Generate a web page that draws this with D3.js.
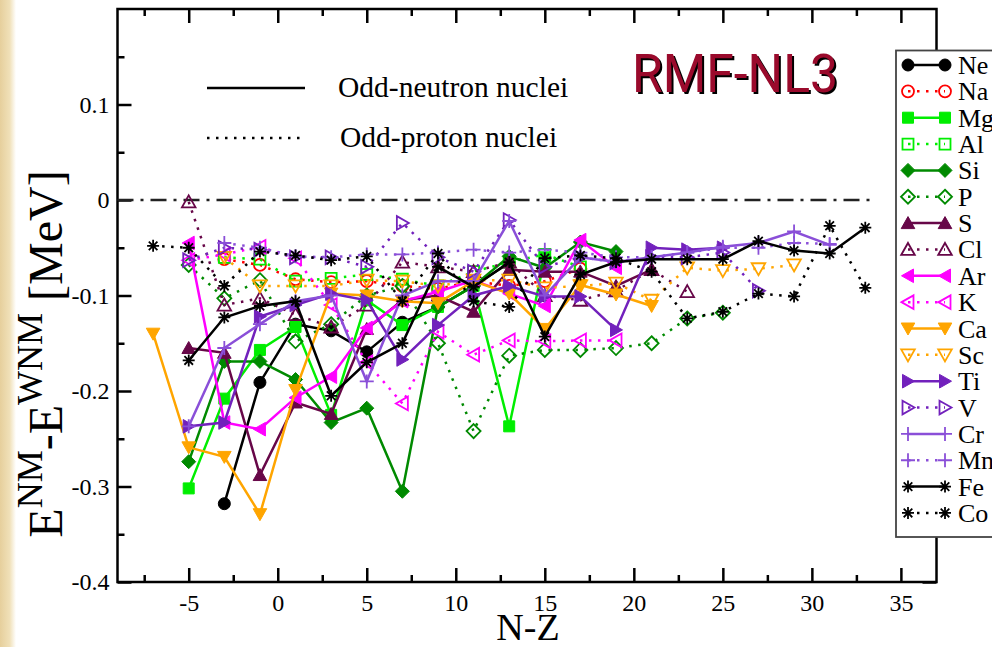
<!DOCTYPE html>
<html><head><meta charset="utf-8">
<script src="https://cdn.jsdelivr.net/npm/d3@7"></script>
<style>
html,body{margin:0;padding:0;background:#fff;}
svg{display:block;}
</style></head>
<body>
<svg id="chart" width="992" height="647"></svg>
<script>
// Isotope chains: E(NM) - E(WNM) in MeV, one value per odd N-Z, step 2
const elements = ["Ne","Na","Mg","Al","Si","P","S","Cl","Ar","K","Ca","Sc","Ti","V","Cr","Mn","Fe","Co"];
const firstNZ = [-3,-3,-5,-3,-5,-5,-5,-5,-5,-5,-7,-3,-5,-5,-5,-3,-5,-7];

const eNe = [-0.318,-0.191,-0.130,-0.137,-0.159,-0.128,-0.112,-0.090,-0.066];
const eNa = [-0.062,-0.068,-0.083,-0.086,-0.085,-0.090,-0.093,-0.085,-0.090,-0.085,-0.072];
const eMg = [-0.302,-0.208,-0.157,-0.133,-0.225,-0.105,-0.131,-0.112,-0.090,-0.237,-0.060];
const eAl = [-0.060,-0.062,-0.085,-0.082,-0.078,-0.083,-0.090,-0.075,-0.065,-0.057,-0.070];
const eSi = [-0.274,-0.169,-0.169,-0.188,-0.233,-0.218,-0.305,-0.112,-0.090,-0.059,-0.071,-0.044,-0.054];
const eP  = [-0.068,-0.103,-0.084,-0.148,-0.130,-0.100,-0.090,-0.150,-0.242,-0.163,-0.157,-0.157,-0.155,-0.150,-0.124,-0.118];
const eS  = [-0.155,-0.160,-0.288,-0.212,-0.224,-0.135,-0.105,-0.100,-0.117,-0.073,-0.075,-0.075,-0.090,-0.073];
const eCl = [-0.002,-0.110,-0.103,-0.120,-0.133,-0.110,-0.065,-0.070,-0.075,-0.065,-0.100,-0.105,-0.095,-0.073,-0.096];
const eAr = [-0.045,-0.233,-0.240,-0.207,-0.185,-0.134,-0.106,-0.096,-0.084,-0.098,-0.111,-0.042,-0.071];
const eK  = [-0.063,-0.057,-0.049,-0.061,-0.110,-0.170,-0.213,-0.138,-0.162,-0.147,-0.148,-0.147,-0.147];
const eCa = [-0.140,-0.259,-0.269,-0.329,-0.199,-0.098,-0.100,-0.106,-0.108,-0.085,-0.098,-0.135,-0.089,-0.099,-0.111];
const eSc = [-0.060,-0.090,-0.090,-0.090,-0.084,-0.085,-0.090,-0.084,-0.084,-0.092,-0.090,-0.087,-0.105,-0.071,-0.074,-0.072,-0.068];
const eTi = [-0.237,-0.233,-0.122,-0.110,-0.098,-0.105,-0.167,-0.131,-0.100,-0.090,-0.101,-0.101,-0.136,-0.050,-0.052,-0.050];
const eV  = [-0.063,-0.050,-0.052,-0.060,-0.060,-0.070,-0.024,-0.060,-0.075,-0.021,-0.070,-0.060,-0.065,-0.060,-0.060,-0.055,-0.095];
const eCr = [-0.237,-0.155,-0.130,-0.106,-0.100,-0.190,-0.100,-0.085,-0.085,-0.022,-0.100,-0.060,-0.065,-0.060,-0.055,-0.049,-0.045,-0.033,-0.047];
const eMn = [-0.045,-0.050,-0.059,-0.060,-0.057,-0.057,-0.055,-0.052,-0.055,-0.052,-0.055,-0.060,-0.060,-0.055,-0.050,-0.050,-0.045,-0.046];
const eFe = [-0.168,-0.123,-0.111,-0.106,-0.205,-0.170,-0.150,-0.070,-0.091,-0.065,-0.143,-0.078,-0.065,-0.062,-0.062,-0.062,-0.043,-0.053,-0.056,-0.029];
const eCo = [-0.048,-0.050,-0.090,-0.054,-0.058,-0.063,-0.059,-0.106,-0.056,-0.106,-0.112,-0.061,-0.058,-0.061,-0.075,-0.124,-0.117,-0.098,-0.101,-0.027,-0.092];

const energies = [eNe,eNa,eMg,eAl,eSi,eP,eS,eCl,eAr,eK,eCa,eSc,eTi,eV,eCr,eMn,eFe,eCo];

const xTicks = [-5,0,5,10,15,20,25,30,35];
const yTicks = [0.1,0,-0.1,-0.2,-0.3,-0.4];
const legendNotes = ["Odd-neutron nuclei","Odd-proton nuclei"];

// drawing styles per chain (colour, marker, filled/solid)
const styles = [
  {c:"#000000", m:"circle",  f:true},
  {c:"#ff0000", m:"circle",  f:false},
  {c:"#00ee00", m:"square",  f:true},
  {c:"#00ee00", m:"square",  f:false},
  {c:"#008a00", m:"diamond", f:true},
  {c:"#008a00", m:"diamond", f:false},
  {c:"#670748", m:"triUp",   f:true},
  {c:"#670748", m:"triUp",   f:false},
  {c:"#ff00ff", m:"triLeft", f:true},
  {c:"#ff00ff", m:"triLeft", f:false},
  {c:"#ffa500", m:"triDown", f:true},
  {c:"#ffa500", m:"triDown", f:false},
  {c:"#7221bc", m:"triRight",f:true},
  {c:"#7221bc", m:"triRight",f:false},
  {c:"#8a4fd8", m:"plus",    f:true},
  {c:"#8a4fd8", m:"plus",    f:false},
  {c:"#000000", m:"star",    f:true},
  {c:"#000000", m:"star",    f:false}
];

const W = 992, H = 647;
const P = {l:117.5, r:936.5, t:9, b:582};
const serif = "'Liberation Serif','Times New Roman',serif";

const svg = d3.select("#chart");

// parchment edge at the left border
const defs = svg.append("defs");
const g0 = defs.append("linearGradient").attr("id","edge").attr("x1","0").attr("x2","1");
g0.append("stop").attr("offset","0").attr("stop-color","#e6cf9c");
g0.append("stop").attr("offset","0.6").attr("stop-color","#f0e0b8");
g0.append("stop").attr("offset","1").attr("stop-color","#ffffff");
svg.append("rect").attr("x",0).attr("y",0).attr("width",16).attr("height",H).attr("fill","url(#edge)");

const x = d3.scaleLinear().domain([-9,37]).range([P.l,P.r]);
const y = d3.scaleLinear().domain([-0.4,0.2]).range([P.b,P.t]);

const majorLen = 14, minorLen = 7;
const xMinor = d3.range(-7.5,37,2.5).filter(v => !xTicks.includes(v));
const yMinor = d3.range(-0.35,0.2,0.1).map(v => +v.toFixed(2));

function styleAxis(g){
  g.select(".domain").remove();
  g.selectAll(".tick line").attr("stroke","#000").attr("stroke-width",2.5);
  g.selectAll(".tick text").attr("fill","#000")
    .style("font-family",serif).style("font-size","24px");
}

// bottom axis
svg.append("g").attr("transform",`translate(0,${P.b})`)
  .call(d3.axisBottom(x).tickValues(xTicks).tickSizeInner(-majorLen).tickSizeOuter(0).tickPadding(12).tickFormat(d => String(d)))
  .call(styleAxis);
svg.append("g").attr("transform",`translate(0,${P.b})`)
  .call(d3.axisBottom(x).tickValues(xMinor).tickSizeInner(-minorLen).tickSizeOuter(0).tickFormat(""))
  .call(styleAxis);
// top axis
svg.append("g").attr("transform",`translate(0,${P.t})`)
  .call(d3.axisTop(x).tickValues(xTicks).tickSizeInner(-majorLen).tickSizeOuter(0).tickFormat(""))
  .call(styleAxis);
svg.append("g").attr("transform",`translate(0,${P.t})`)
  .call(d3.axisTop(x).tickValues(xMinor).tickSizeInner(-minorLen).tickSizeOuter(0).tickFormat(""))
  .call(styleAxis);
// left axis
svg.append("g").attr("transform",`translate(${P.l},0)`)
  .call(d3.axisLeft(y).tickValues(yTicks).tickSizeInner(-majorLen).tickSizeOuter(0).tickPadding(8).tickFormat(d => String(d)))
  .call(styleAxis);
svg.append("g").attr("transform",`translate(${P.l},0)`)
  .call(d3.axisLeft(y).tickValues(yMinor).tickSizeInner(-minorLen).tickSizeOuter(0).tickFormat(""))
  .call(styleAxis);
// right axis
svg.append("g").attr("transform",`translate(${P.r},0)`)
  .call(d3.axisRight(y).tickValues(yTicks).tickSizeInner(-majorLen).tickSizeOuter(0).tickFormat(""))
  .call(styleAxis);

// frame
svg.append("rect").attr("x",P.l).attr("y",P.t).attr("width",P.r-P.l).attr("height",P.b-P.t)
  .attr("fill","none").attr("stroke","#000").attr("stroke-width",2.5);

// zero reference line
svg.append("line").attr("x1",x(-9)).attr("x2",x(33.3)).attr("y1",y(0)).attr("y2",y(0))
  .attr("stroke","#222").attr("stroke-width",2.5).attr("stroke-dasharray","16 7 3 7");

// marker shapes
function markerPath(m){
  switch(m){
    case "circle": return d3.symbol(d3.symbolCircle, Math.PI*36)();
    case "square": return "M-5.5,-5.5H5.5V5.5H-5.5Z";
    case "diamond": return "M0,-7L7,0L0,7L-7,0Z";
    case "triUp": return "M0,-6.5L6.8,5.5L-6.8,5.5Z";
    case "triDown": return "M0,6.5L6.8,-5.5L-6.8,-5.5Z";
    case "triLeft": return "M-6.5,0L5.5,-6.8L5.5,6.8Z";
    case "triRight": return "M6.5,0L-5.5,-6.8L-5.5,6.8Z";
    case "plus": return "M-7,0H7M0,-7V7";
    case "star": return "M-6,0H6M0,-6V6M-4.3,-4.3L4.3,4.3M-4.3,4.3L4.3,-4.3";
  }
}
function drawMarker(sel, st){
  const lineOnly = st.m === "plus" || st.m === "star";
  sel.attr("d", markerPath(st.m))
    .attr("fill", lineOnly ? "none" : (st.f ? st.c : "none"))
    .attr("stroke", st.c)
    .attr("stroke-width", lineOnly ? 1.8 : (st.f ? 1 : 1.8));
}
function lineStyle(sel, st){
  sel.attr("stroke", st.c).attr("stroke-width", 2.5)
    .attr("stroke-dasharray", st.f ? null : "2.5 6.5").attr("fill","none");
}

const line = d3.line().x(d => x(d.nz)).y(d => y(d.e));

const series = elements.map((name,i) => ({
  name, st: styles[i],
  pts: energies[i].map((e,k) => ({nz: firstNZ[i] + 2*k, e}))
}));

const plot = svg.append("g");
series.forEach(s => {
  const g = plot.append("g");
  g.append("path").datum(s.pts).attr("d", line).call(lineStyle, s.st);
  g.selectAll("path.mk").data(s.pts).join("path").attr("class","mk")
    .attr("transform", d => `translate(${x(d.nz)},${y(d.e)})`)
    .call(drawMarker, s.st);
});

// line-style key inside the plot
const key = svg.append("g").style("font-family",serif).style("font-size","29.5px");
legendNotes.forEach((t,i) => {
  const yy = 88 + i*50;
  key.append("line").attr("x1",207).attr("x2",305).attr("y1",yy).attr("y2",yy)
    .attr("stroke","#000").attr("stroke-width",2.5).attr("stroke-dasharray", i ? "2.5 6.5" : null);
  key.append("text").attr("x",338 + i*2).attr("y",yy+9).text(t);
});

// model name
const title = svg.append("g").style("font-family","Roboto,'Liberation Sans',sans-serif").style("font-size","54px");
title.append("text").attr("x",634).attr("y",94).attr("fill","#000").attr("textLength",206).attr("lengthAdjust","spacingAndGlyphs").text("RMF-NL3");
title.append("text").attr("x",632).attr("y",92).attr("fill","#9a0a2c").attr("textLength",206).attr("lengthAdjust","spacingAndGlyphs").text("RMF-NL3");

// element legend box
const lg = svg.append("g");
lg.append("rect").attr("x",896).attr("y",50.5).attr("width",120).attr("height",486.5)
  .attr("fill","#fff").attr("stroke","#444").attr("stroke-width",1.8);
series.forEach((s,i) => {
  const yy = 65 + i*26.35;
  lg.append("line").attr("x1",908).attr("x2",945).attr("y1",yy).attr("y2",yy).call(lineStyle, s.st);
  [908,945].forEach(xx => lg.append("path").attr("transform",`translate(${xx},${yy})`).call(drawMarker, s.st));
  lg.append("text").attr("x",958).attr("y",yy+9)
    .style("font-family",serif).style("font-size","26px").text(s.name);
});

// axis titles
svg.append("text").attr("x",528).attr("y",640).attr("text-anchor","middle")
  .style("font-family",serif).style("font-size","38px").text("N-Z");

const yl = svg.append("text").attr("transform","translate(62,354) rotate(-90)").attr("text-anchor","middle")
  .style("font-family",serif).style("font-size","48px");
yl.append("tspan").text("E");
yl.append("tspan").attr("dy",-20).style("font-size","36px").text("NM");
yl.append("tspan").attr("dy",20).text("-E");
yl.append("tspan").attr("dy",-20).style("font-size","36px").text("WNM");
yl.append("tspan").attr("dy",20).text(" [MeV]");
</script>
</body></html>
